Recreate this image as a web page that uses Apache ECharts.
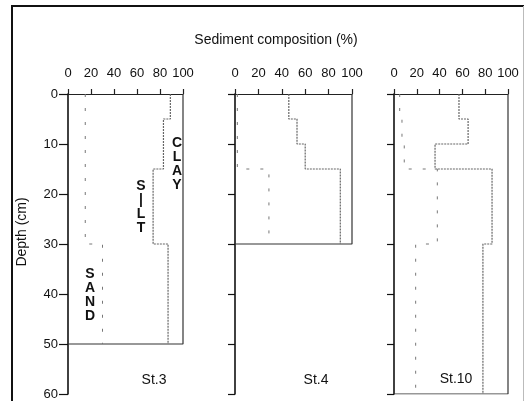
<!DOCTYPE html>
<html>
<head>
<meta charset="utf-8">
<script src="https://cdn.jsdelivr.net/npm/echarts@6/dist/echarts.min.js"></script>
<style>
  html, body { margin: 0; padding: 0; background: #fff; }
  #chart { width: 525px; height: 401px; }
</style>
</head>
<body>
<div id="chart"></div>
<script>
// x ticks (%), depth ticks (cm)
const compTicks = [0, 20, 40, 60, 80, 100]
const depthTicks = [0, 10, 20, 30, 40, 50, 60]
const stations = ['St.3', 'St.4', 'St.10']

// layer boundaries (cm) and cumulative % at each layer
// siltTop = sand + silt (clay starts here), sandTop = sand
const st3Depths = [0, 5, 15, 30, 50]
const st3SiltTop = [89, 83, 74, 87]
const st3SandTop = [15, 15, 15, 30]

const st4Depths = [0, 5, 10, 15, 30]
const st4SiltTop = [46, 53, 60, 90]
const st4SandTop = [2, 2, 2, 29]

const st10Depths = [0, 5, 10, 15, 30, 60]
const st10SiltTop = [57, 65, 36, 86, 78]
const st10SandTop = [5, 7, 9, 38, 19]

const FONT = 'Liberation Sans, Arial, sans-serif'

// turn layer values into a step profile
function steps(depths, vals) {
  const pts = []
  for (let i = 0; i < vals.length; i++) {
    pts.push([vals[i], depths[i]])
    pts.push([vals[i], depths[i + 1]])
  }
  return pts
}

// right + bottom edge of the core box
function box(depths) {
  const bottom = depths[depths.length - 1]
  const full = compTicks[compTicks.length - 1]
  return [[full, 0], [full, bottom], [0, bottom]]
}

const panels = [
  { depths: st3Depths, silt: st3SiltTop, sand: st3SandTop, left: 68, width: 115 },
  { depths: st4Depths, silt: st4SiltTop, sand: st4SandTop, left: 235, width: 117 },
  { depths: st10Depths, silt: st10SiltTop, sand: st10SandTop, left: 394, width: 114 }
]

const grid = []
const xAxis = []
const yAxis = []
const series = []

panels.forEach((p, i) => {
  grid.push({ left: p.left, width: p.width, top: 94, height: 300 })
  xAxis.push({
    gridIndex: i,
    type: 'value',
    position: 'top',
    min: compTicks[0],
    max: compTicks[compTicks.length - 1],
    interval: compTicks[1] - compTicks[0],
    axisLine: { show: true, lineStyle: { color: '#222', width: 1 } },
    axisTick: { show: true, length: 5, lineStyle: { color: '#222', width: 1.2 } },
    axisLabel: { margin: 14, fontSize: 13, color: '#111', fontFamily: FONT },
    splitLine: { show: false }
  })
  yAxis.push({
    gridIndex: i,
    type: 'value',
    inverse: true,
    min: depthTicks[0],
    max: depthTicks[depthTicks.length - 1],
    interval: depthTicks[1] - depthTicks[0],
    axisLine: { show: true, lineStyle: { color: '#111', width: 1.6 } },
    axisTick: { show: true, length: i === 0 ? 9 : 7, lineStyle: { color: '#111', width: 1.2 } },
    axisLabel: { show: i === 0, margin: 10, fontSize: 13, color: '#111', fontFamily: FONT },
    splitLine: { show: false }
  })
  series.push({
    type: 'line',
    xAxisIndex: i,
    yAxisIndex: i,
    data: box(p.depths),
    symbol: 'none',
    silent: true,
    lineStyle: { color: '#333', width: 1.2 }
  })
  series.push({
    type: 'line',
    xAxisIndex: i,
    yAxisIndex: i,
    data: steps(p.depths, p.silt),
    symbol: 'none',
    silent: true,
    lineStyle: { color: '#666', width: 1.2, type: [2, 1] }
  })
  series.push({
    type: 'line',
    xAxisIndex: i,
    yAxisIndex: i,
    data: steps(p.depths, p.sand),
    symbol: 'none',
    silent: true,
    lineStyle: { color: '#777', width: 1, type: [3, 11] }
  })
})

function stacked(word) {
  return word.split('').join('\n')
}

const letterStyle = {
  fill: '#111',
  fontSize: 14,
  fontWeight: 'bold',
  fontFamily: FONT,
  lineHeight: 14,
  align: 'center',
  verticalAlign: 'top'
}

const labelStyle = { fontSize: 14, fontFamily: FONT, fill: '#111', align: 'center', verticalAlign: 'middle' }

const chart = echarts.init(document.getElementById('chart'))
chart.setOption({
  animation: false,
  backgroundColor: '#fff',
  grid: grid,
  xAxis: xAxis,
  yAxis: yAxis,
  series: series,
  graphic: [
    { type: 'polyline', shape: { points: [[12, 420], [12, 6], [524, 6]] }, style: { fill: 'none', stroke: '#111', lineWidth: 2 }, silent: true },
    { type: 'line', shape: { x1: 523.5, y1: 6, x2: 523.5, y2: 420 }, style: { stroke: '#bbb', lineWidth: 1 }, silent: true },
    { type: 'text', x: 276, y: 40, style: Object.assign({ text: 'Sediment composition (%)' }, labelStyle) },
    { type: 'text', x: 22, y: 232, rotation: Math.PI / 2, style: Object.assign({ text: 'Depth (cm)' }, labelStyle) },
    { type: 'text', x: 177, y: 136, style: Object.assign({ text: stacked('CLAY') }, letterStyle) },
    { type: 'text', x: 141, y: 179, style: Object.assign({ text: 'S\n|\nL\nT' }, letterStyle) },
    { type: 'text', x: 90, y: 267, style: Object.assign({ text: stacked('SAND') }, letterStyle) },
    { type: 'text', x: 154, y: 380, style: Object.assign({ text: stations[0] }, labelStyle) },
    { type: 'text', x: 316, y: 380, style: Object.assign({ text: stations[1] }, labelStyle) },
    { type: 'text', x: 456, y: 379, style: Object.assign({ text: stations[2] }, labelStyle) }
  ]
})
</script>
</body>
</html>
